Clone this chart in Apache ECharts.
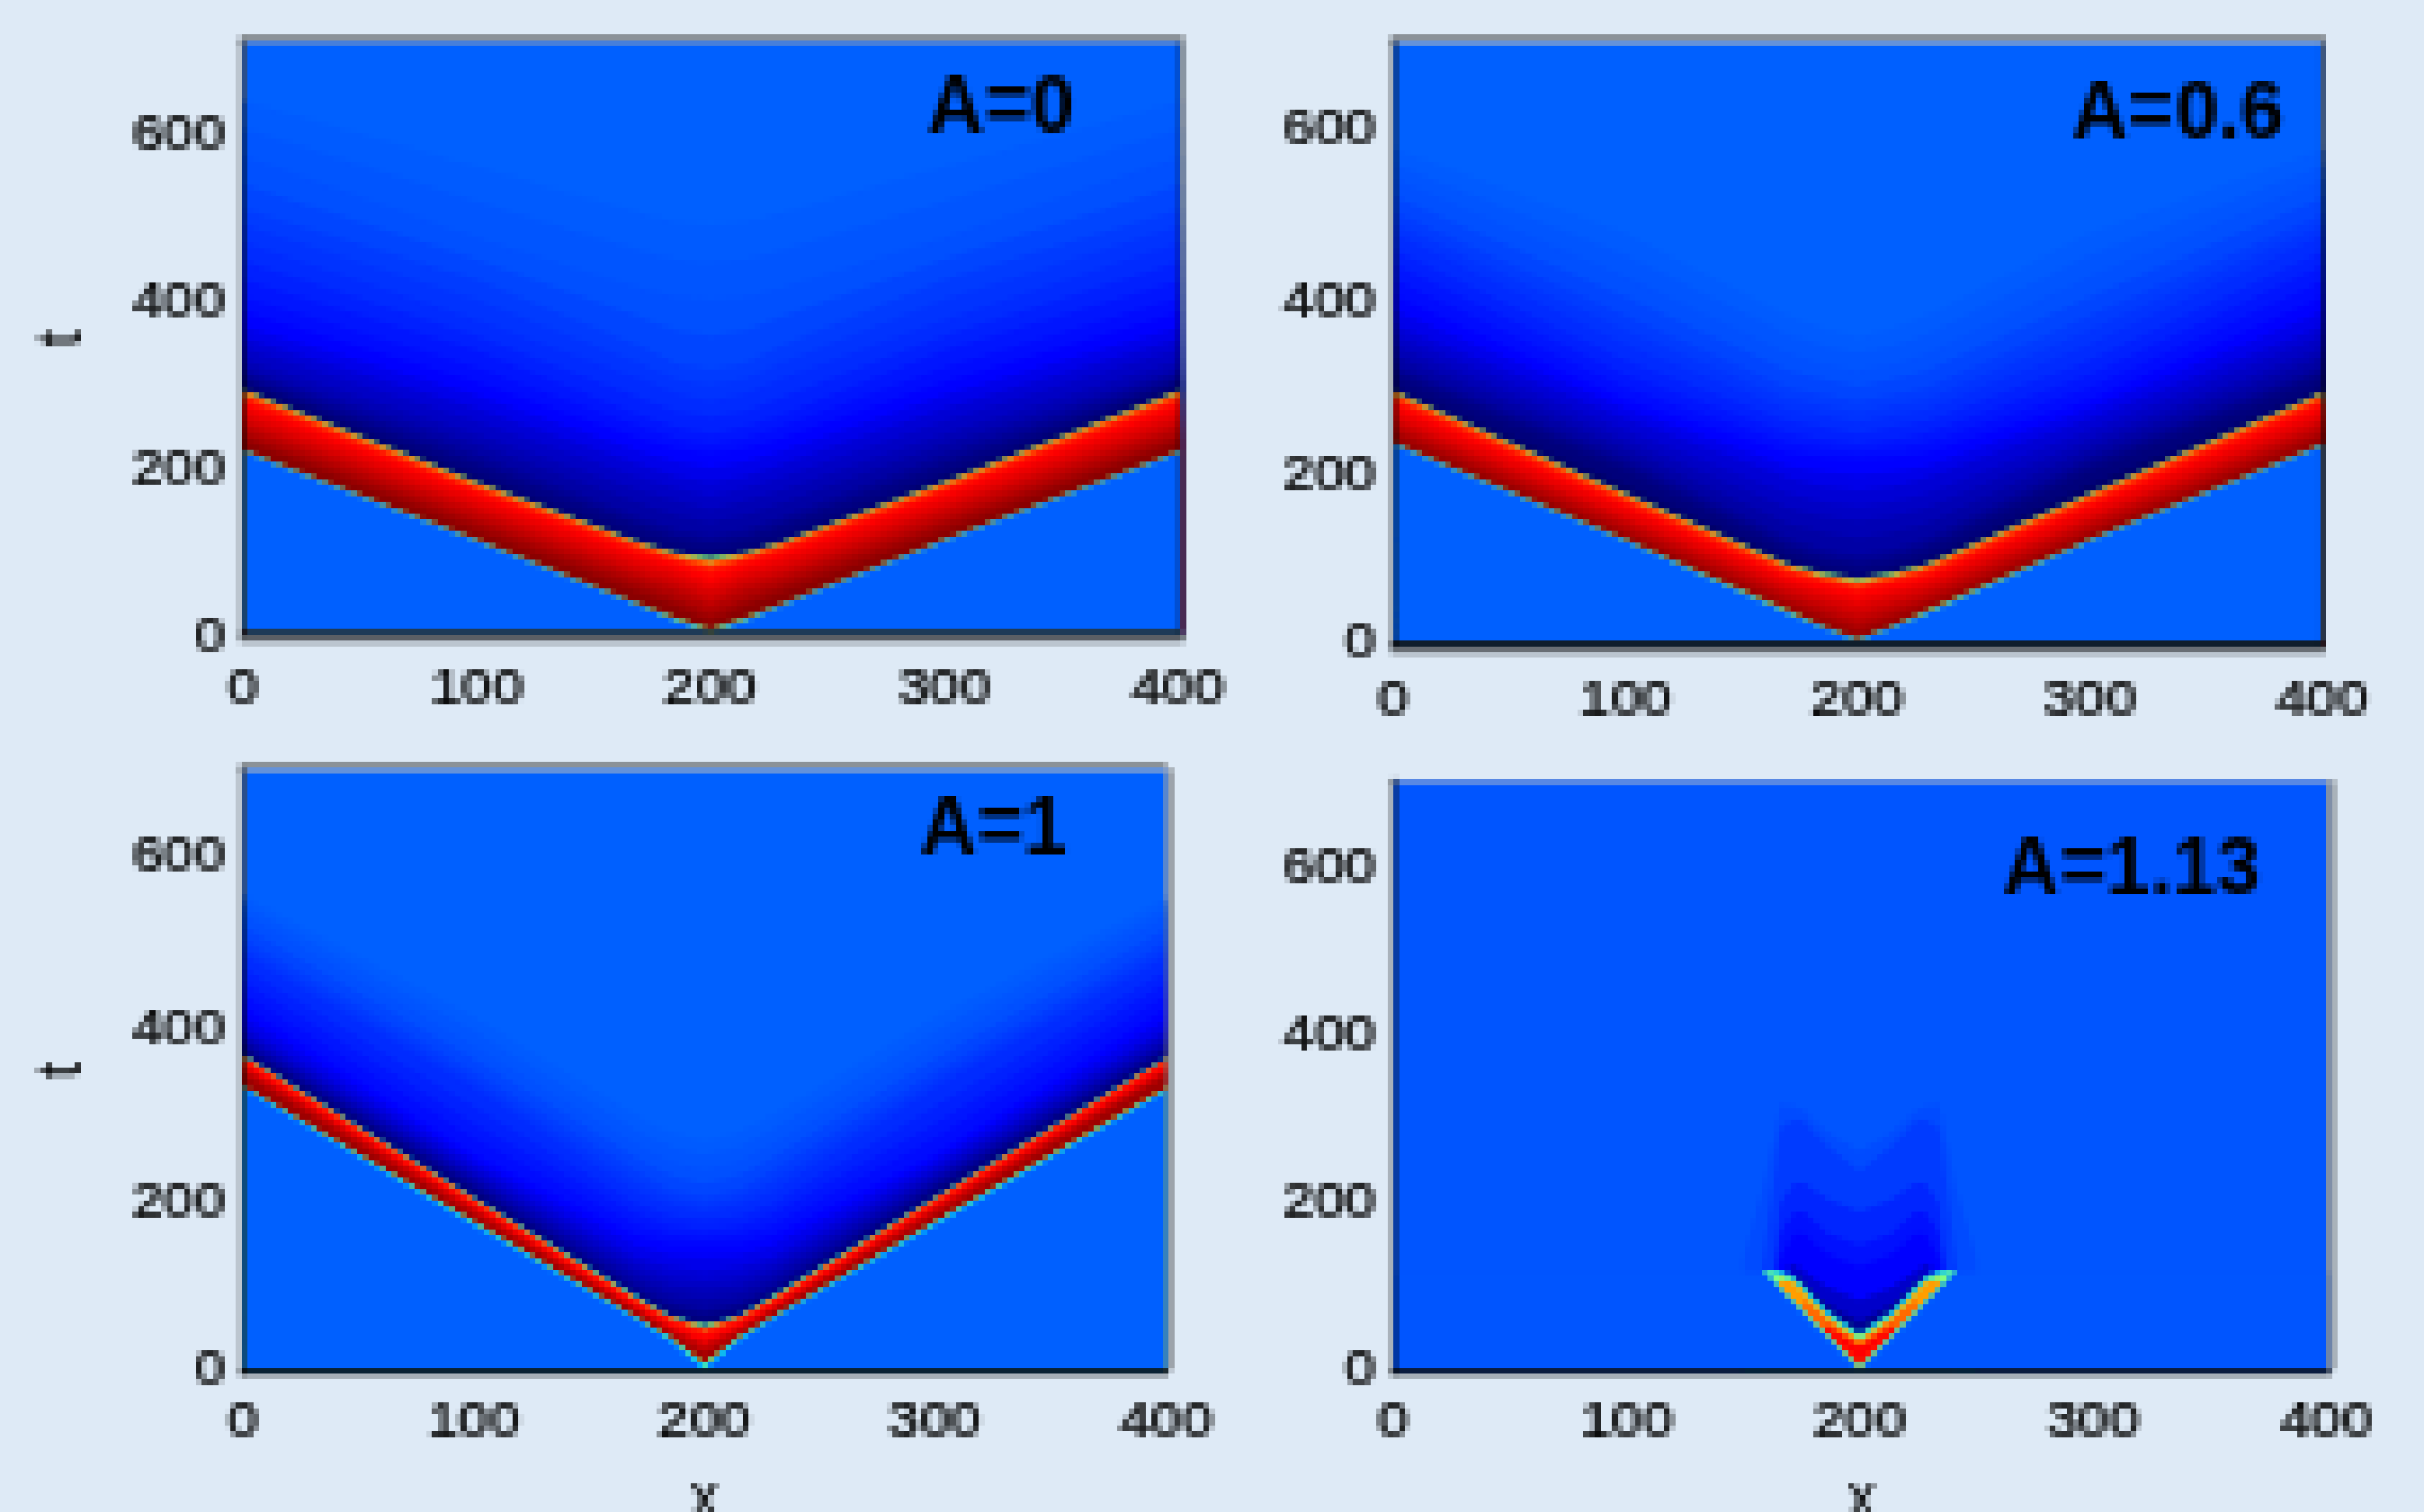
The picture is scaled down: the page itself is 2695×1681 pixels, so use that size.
<!DOCTYPE html>
<html>
<head>
<meta charset="utf-8">
<script src="https://cdn.jsdelivr.net/npm/echarts@6/dist/echarts.min.js"></script>
<style>
html,body{margin:0;padding:0;background:#deeaf6;}
#c{width:2695px;height:1681px;}
canvas{image-rendering:pixelated;}
</style>
</head>
<body>
<div id="c"></div>
<script>
// ---- tick labels ----
const xTicks = [0, 100, 200, 300, 400];
const yTicks = [0, 200, 400, 600];
const panelNames = ['A=0', 'A=0.6', 'A=1', 'A=1.13'];

// ---- data: iso-lines t(x). level = field value below that line ----
const xKnots = [0, 100, 170, 185, 200, 215, 230, 300, 402];

const a0Levels = [.2, .195, .19, .185, .175, .165, .1575, .15, .14, .13, .12, .11, .1, .09, .0825, .075, .0675, .06, .0525, .045, .03, .5, .78, .85, .87, .89, .91, .93, .95, .97, .99, .5, .2];
const a0Lines = [
  [712, 712, 712, 712, 712, 712, 712, 712, 712],
  [640, 560, 505, 495, 490, 495, 505, 560, 640],
  [606, 518, 460, 450, 445, 450, 460, 518, 606],
  [573, 476, 415, 405, 400, 405, 415, 476, 573],
  [540, 450, 380, 365, 358, 365, 380, 450, 540],
  [510, 425, 345, 325, 318, 325, 345, 425, 510],
  [490, 400, 325, 306, 299, 306, 325, 400, 490],
  [470, 377, 305, 288, 280, 288, 305, 377, 470],
  [447, 358, 283, 268, 260, 268, 283, 358, 447],
  [425, 340, 262, 248, 240, 248, 262, 340, 425],
  [405, 320, 248, 235, 228, 235, 248, 320, 405],
  [386, 302, 235, 222, 217, 222, 235, 302, 386],
  [370, 286, 219, 206, 200, 206, 219, 286, 370],
  [355, 270, 203, 190, 182, 190, 203, 270, 355],
  [343, 255, 187, 175, 166, 175, 187, 255, 343],
  [330, 240, 172, 160, 150, 160, 172, 240, 330],
  [320, 227, 156, 142, 134, 142, 156, 227, 320],
  [314, 215, 140, 125, 118, 125, 140, 215, 314],
  [308, 205, 130, 116, 109, 116, 130, 205, 308],
  [304, 195, 120, 108, 100, 108, 120, 195, 304],
  [299, 188, 112, 100, 93, 100, 112, 188, 299],
  [293, 182, 110, 98, 92, 98, 110, 182, 293],
  [291, 180, 108, 96, 88, 96, 108, 180, 291],
  [287, 176, 104, 91, 81, 91, 104, 176, 287],
  [280, 170, 97, 85, 72, 85, 97, 170, 280],
  [272, 163, 90, 78, 62, 78, 90, 163, 272],
  [264, 155, 82, 70, 52, 70, 82, 155, 264],
  [256, 147, 74, 62, 42, 62, 74, 147, 256],
  [248, 139, 66, 52, 33, 52, 66, 139, 248],
  [240, 132, 58, 43, 24, 43, 58, 132, 240],
  [232, 124, 49, 34, 14, 34, 49, 124, 232],
  [221, 113, 36, 19, 5, 19, 36, 113, 221],
  [219, 111, 34, 17, 3, 17, 34, 111, 219]
];

const a06Levels = [.2, .195, .19, .185, .175, .165, .1575, .15, .14, .13, .12, .11, .1, .09, .0825, .075, .0675, .06, .0525, .045, .03, .5, .78, .85, .87, .89, .91, .93, .95, .97, .99, .5, .2];
const a06Lines = [
  [704, 704, 704, 704, 704, 704, 704, 704, 704],
  [580, 480, 385, 370, 360, 370, 385, 480, 580],
  [562, 455, 362, 349, 340, 349, 362, 455, 562],
  [545, 430, 340, 328, 320, 328, 340, 430, 545],
  [525, 407, 320, 310, 302, 310, 320, 407, 525],
  [505, 385, 300, 292, 285, 292, 300, 385, 505],
  [492, 367, 287, 280, 272, 280, 287, 367, 492],
  [480, 350, 275, 268, 260, 268, 275, 350, 480],
  [462, 332, 261, 254, 247, 254, 261, 332, 462],
  [445, 315, 248, 240, 235, 240, 248, 315, 445],
  [426, 301, 236, 230, 226, 230, 236, 301, 426],
  [408, 287, 225, 220, 218, 220, 225, 287, 408],
  [391, 276, 210, 202, 199, 202, 210, 276, 391],
  [375, 265, 195, 185, 180, 185, 195, 265, 375],
  [362, 252, 177, 167, 162, 167, 177, 252, 362],
  [350, 240, 160, 150, 145, 150, 160, 240, 350],
  [339, 230, 142, 131, 125, 131, 142, 230, 339],
  [328, 220, 125, 112, 105, 112, 125, 220, 328],
  [320, 211, 116, 103, 96, 103, 116, 211, 320],
  [312, 202, 108, 95, 88, 95, 108, 202, 312],
  [302, 188, 100, 88, 80, 88, 100, 188, 302],
  [297, 177, 95, 85, 78, 85, 95, 177, 297],
  [295, 175, 93, 82, 75, 82, 93, 175, 295],
  [290, 170, 88, 78, 70, 78, 88, 170, 290],
  [284, 164, 82, 72, 63, 72, 82, 164, 284],
  [277, 158, 76, 64, 54, 64, 76, 158, 277],
  [269, 151, 69, 57, 45, 57, 69, 151, 269],
  [262, 145, 63, 49, 36, 49, 63, 145, 262],
  [255, 139, 56, 41, 28, 41, 56, 139, 255],
  [248, 132, 50, 34, 19, 34, 50, 132, 248],
  [240, 126, 43, 26, 10, 26, 43, 126, 240],
  [237, 123, 40, 23, 7, 23, 40, 123, 237],
  [235, 121, 38, 21, 5, 21, 38, 121, 235]
];

const a1Levels = [.2, .195, .19, .185, .175, .165, .1575, .15, .14, .13, .12, .11, .1, .09, .0825, .075, .0675, .06, .0525, .045, .35, .55, .84, .87, .93, .97, .6, .35, .2];
const a1Lines = [
  [704, 704, 704, 704, 704, 704, 704, 704, 704],
  [555, 415, 300, 280, 270, 280, 300, 415, 555],
  [545, 397, 282, 262, 252, 262, 282, 397, 545],
  [535, 380, 265, 245, 235, 245, 265, 380, 535],
  [520, 365, 250, 228, 219, 228, 250, 365, 520],
  [505, 350, 235, 212, 203, 212, 235, 350, 505],
  [495, 340, 222, 203, 195, 203, 222, 340, 495],
  [486, 331, 210, 195, 187, 195, 210, 331, 486],
  [471, 310, 197, 182, 176, 182, 197, 310, 471],
  [457, 290, 185, 170, 165, 170, 185, 290, 457],
  [442, 272, 172, 160, 157, 160, 172, 272, 442],
  [428, 254, 160, 150, 150, 150, 160, 254, 428],
  [416, 247, 147, 136, 134, 136, 147, 247, 416],
  [404, 240, 135, 122, 118, 122, 135, 240, 404],
  [398, 234, 126, 111, 106, 111, 126, 234, 398],
  [392, 228, 118, 100, 95, 100, 118, 228, 392],
  [387, 223, 109, 90, 83, 90, 109, 223, 387],
  [382, 218, 100, 80, 72, 80, 100, 218, 382],
  [378, 214, 96, 75, 66, 75, 96, 214, 378],
  [375, 210, 92, 70, 60, 70, 92, 210, 375],
  [370, 203, 88, 65, 54, 65, 88, 203, 370],
  [369, 202, 87, 64, 53, 64, 87, 202, 369],
  [368, 201, 86, 63, 50, 63, 86, 201, 368],
  [364, 197, 82, 59, 43, 59, 82, 197, 364],
  [357, 191, 76, 52, 33, 52, 76, 191, 357],
  [349, 184, 70, 45, 22, 45, 70, 184, 349],
  [334, 175, 64, 40, 9, 40, 64, 175, 334],
  [333, 174, 63, 39, 7, 39, 63, 174, 333],
  [331, 172, 61, 37, 3, 37, 61, 172, 331]
];

const xKnots113 = [0, 150, 150, 159, 166, 172, 176, 186, 200, 214, 224, 228, 234, 241, 250, 250, 402];
const a113Levels = [.19, .18, .165, .145, .125, .11, .085, .06, .035, .3, .5, .72, .78, .87, .92, .7, .5, .3, .19];
const a113Lines = [
  [704, 704, 704, 704, 704, 704, 704, 704, 704, 704, 704, 704, 704, 704, 704, 704, 704],
  [0, 0, 135, 223, 318, 315, 310, 285, 262, 285, 310, 315, 318, 223, 135, 0, 0],
  [0, 0, 0, 140, 290, 300, 298, 270, 238, 270, 298, 300, 290, 140, 0, 0, 0],
  [0, 0, 0, 0, 200, 225, 225, 205, 190, 205, 225, 225, 200, 0, 0, 0, 0],
  [0, 0, 0, 0, 165, 190, 190, 165, 150, 165, 190, 190, 165, 0, 0, 0, 0],
  [0, 0, 0, 0, 135, 165, 165, 140, 125, 140, 165, 165, 135, 0, 0, 0, 0],
  [0, 0, 0, 0, 118, 128, 120, 100, 85, 100, 120, 128, 118, 0, 0, 0, 0],
  [0, 0, 0, 0, 0, 115, 106, 80, 60, 80, 106, 115, 0, 0, 0, 0, 0],
  [0, 0, 0, 0, 0, 114, 103, 74, 49, 74, 103, 114, 0, 0, 0, 0, 0],
  [0, 0, 0, 122, 121, 113, 102, 73, 46, 73, 102, 113, 121, 122, 0, 0, 0],
  [0, 0, 0, 120, 117, 110, 98, 69, 42, 69, 98, 110, 117, 120, 0, 0, 0],
  [0, 0, 0, 0, 110, 106, 94, 65, 38, 65, 94, 106, 110, 0, 0, 0, 0],
  [0, 0, 0, 0, 0, 0, 85, 62, 34, 62, 85, 0, 0, 0, 0, 0, 0],
  [0, 0, 0, 0, 0, 0, 0, 55, 30, 55, 0, 0, 0, 0, 0, 0, 0],
  [0, 0, 0, 0, 0, 0, 0, 0, 15, 0, 0, 0, 0, 0, 0, 0, 0],
  [0, 0, 0, 0, 102, 86, 75, 46, 8, 46, 75, 86, 102, 0, 0, 0, 0],
  [0, 0, 0, 120, 100, 84, 72, 44, 5, 44, 72, 84, 100, 120, 0, 0, 0],
  [0, 0, 0, 119, 98, 82, 70, 42, 3, 42, 70, 82, 98, 119, 0, 0, 0],
  [118, 118, 118, 118, 97, 80, 68, 40, 1, 40, 68, 80, 97, 118, 118, 118, 118]
];

// ---- styles ----
const PAGE_BG = '#deeaf6';
const TEXT = '#000';
const RENDER_DPR = 1 / 6.4;
const colorStops = [[0, [0, 0, 74]], [.05, [0, 0, 128]], [.11, [0, 0, 255]], [.2, [0, 96, 255]], [.375, [0, 255, 255]],
  [.5, [128, 255, 128]], [.62, [255, 255, 0]], [.75, [255, 128, 0]], [.87, [255, 0, 0]], [1, [128, 0, 0]]];
function levelColor(v) {
  for (let i = 1; i < colorStops.length; i++) {
    const [a, ca] = colorStops[i - 1], [b, cb] = colorStops[i];
    if (v <= b) {
      const f = (v - a) / (b - a);
      return 'rgb(' + ca.map((c, k) => Math.round(c + (cb[k] - c) * f)).join(',') + ')';
    }
  }
  return 'rgb(128,0,0)';
}
const layouts = [
  {left: 270, right: 1313, top: 47, bottom: 703, xMax: 401.5, yMax: 710, labelGap: 31, knots: xKnots, levels: a0Levels, lines: a0Lines, nameX: 1031, nameY: 81, yName: true, xName: false},
  {left: 1549, right: 2582, top: 47, bottom: 715.5, xMax: 400.5, yMax: 704, labelGap: 31, knots: xKnots, levels: a06Levels, lines: a06Lines, nameX: 2302, nameY: 87, yName: false, xName: false},
  {left: 270, right: 1297, top: 853, bottom: 1521, xMax: 400.4, yMax: 704, labelGap: 22, knots: xKnots, levels: a1Levels, lines: a1Lines, nameX: 1023, nameY: 877, yName: true, xName: true},
  {left: 1549, right: 2588, top: 866, bottom: 1521, xMax: 401, yMax: 704, labelGap: 22, knots: xKnots113, levels: a113Levels, lines: a113Lines, nameX: 2226, nameY: 924, yName: false, xName: true}
];
const GRAY = '#6f7478', GRAY_D = '#54595e', STRIP = 'rgba(0,0,0,0.55)';
const frames = [
  [267, 40, 1049, 7, GRAY], [267, 706, 1049, 6, GRAY_D], [1310, 47, 6, 653, STRIP],
  [1546, 40, 1039, 7, GRAY], [1546, 719, 1039, 6, GRAY_D], [2579, 47, 6, 665, STRIP],
  [267, 846, 1030, 7, GRAY], [1297, 853, 6, 665, GRAY],
  [2588, 866, 7, 652, GRAY], [1553, 866, 1035, 5, 'rgba(0,0,0,0.12)']
];
const labelFont = {fontFamily: 'Liberation Sans', fontSize: 62, color: TEXT, textBorderColor: '#222', textBorderWidth: 1.5};

const grid = [], xAxis = [], yAxis = [], series = [], title = [];
layouts.forEach((p, i) => {
  grid.push({left: p.left, top: p.top, width: p.right - p.left, height: p.bottom - p.top, containLabel: false, outerBoundsMode: 'none'});
  xAxis.push({
    type: 'value', gridIndex: i, min: 0, max: p.xMax, interval: 100, z: 10,
    name: p.xName ? 'x' : '', nameLocation: 'middle', nameGap: 108,
    nameTextStyle: {fontFamily: 'Liberation Sans', fontSize: 66, color: TEXT},
    axisLine: {show: true, onZero: false, lineStyle: {color: '#000', width: 7}},
    axisTick: {show: false}, splitLine: {show: false},
    axisLabel: {show: true, margin: p.labelGap, showMaxLabel: false, ...labelFont,
      formatter: v => xTicks.includes(v) ? String(v) : ''}
  });
  yAxis.push({
    type: 'value', gridIndex: i, min: 0, max: p.yMax, interval: 200, z: 10,
    name: p.yName ? 't' : '', nameLocation: 'middle', nameRotate: 90, nameGap: 165,
    nameTextStyle: {fontFamily: 'Liberation Sans', fontSize: 72, color: TEXT},
    axisLine: {show: true, onZero: false, lineStyle: {color: STRIP, width: 7}},
    axisTick: {show: false}, splitLine: {show: false},
    axisLabel: {show: true, margin: 20, padding: [6, 0, 0, 0], showMaxLabel: false, ...labelFont,
      formatter: v => yTicks.includes(v) ? String(v) : ''}
  });
  title.push({text: panelNames[i], left: p.nameX, top: p.nameY, padding: 0, z: 20,
    textStyle: {fontFamily: 'Liberation Sans', fontWeight: 'bold', fontSize: 88, color: '#000'}});
  p.lines.forEach((line, k) => {
    series.push({
      type: 'line', xAxisIndex: i, yAxisIndex: i, silent: true, symbol: 'none', showSymbol: false,
      lineStyle: {width: 0}, itemStyle: {color: levelColor(p.levels[k])},
      areaStyle: {color: levelColor(p.levels[k]), opacity: 1, origin: 'start'},
      z: 2, animation: false,
      data: line.map((t, j) => [p.knots[j], t])
    });
  });
});

const chart = echarts.init(document.getElementById('c'), null, {renderer: 'canvas', devicePixelRatio: RENDER_DPR});
chart.setOption({
  backgroundColor: PAGE_BG, animation: false, grid, xAxis, yAxis, series, title,
  graphic: frames.map(f => ({type: 'rect', z: 15, silent: true, shape: {x: f[0], y: f[1], width: f[2], height: f[3]}, style: {fill: f[4]}}))
});
</script>
</body>
</html>
